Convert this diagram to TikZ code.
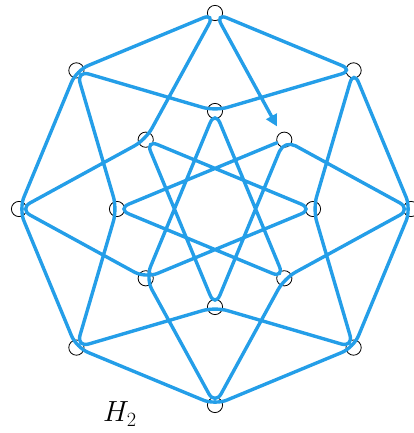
\documentclass[tikz,border=0pt]{standalone}
\usepackage{xcolor}
\usepackage{tikz}
\usetikzlibrary{arrows.meta}
\definecolor{edgeblue}{RGB}{36,158,232}
\tikzstyle{vertex} = [circle, draw=black, line width=0.7pt, minimum size=13pt, inner sep=0pt]
\tikzstyle{trail} = [draw=edgeblue, line width=2.9pt, line cap=round, rounded corners=11pt]
\tikzstyle{arrow} = [-{Triangle[length=10pt, width=10pt]}, shorten >=6pt]

\begin{document}
\begin{tikzpicture}[x=0.03cm, y=0.03cm]
    \useasboundingbox (-215,-224) rectangle (198,209);
    \foreach \k in {0,...,7} {
        \node[vertex] (o\k) at (90-45*\k:196) {};
        \node[vertex] (i\k) at (90-45*\k:98) {};
    }
    % one closed walk through all edges, starting and ending at i1
    \draw[trail, arrow] (i1) -- (i6.center) -- (i3.center) -- (i0.center)
        -- (i5.center) -- (o4.center) -- (i3.center) -- (o2.center)
        -- (i1.center) -- (i4.center) -- (i7.center) -- (i2.center)
        -- (i5.center) -- (o6.center) -- (i7.center) -- (o0.center)
        -- (o7.center) -- (o6.center) -- (o5.center) -- (o4.center)
        -- (o3.center) -- (o2.center) -- (o1.center) -- (i2.center)
        -- (o3.center) -- (i4.center) -- (o5.center) -- (i6.center)
        -- (o7.center) -- (i0.center) -- (o1.center) -- (o0.center)
        -- (i1);
    \node[font=\fontsize{25}{28}\selectfont] (name) at (-95,-205) {$H_2$};
\end{tikzpicture}
\end{document}
